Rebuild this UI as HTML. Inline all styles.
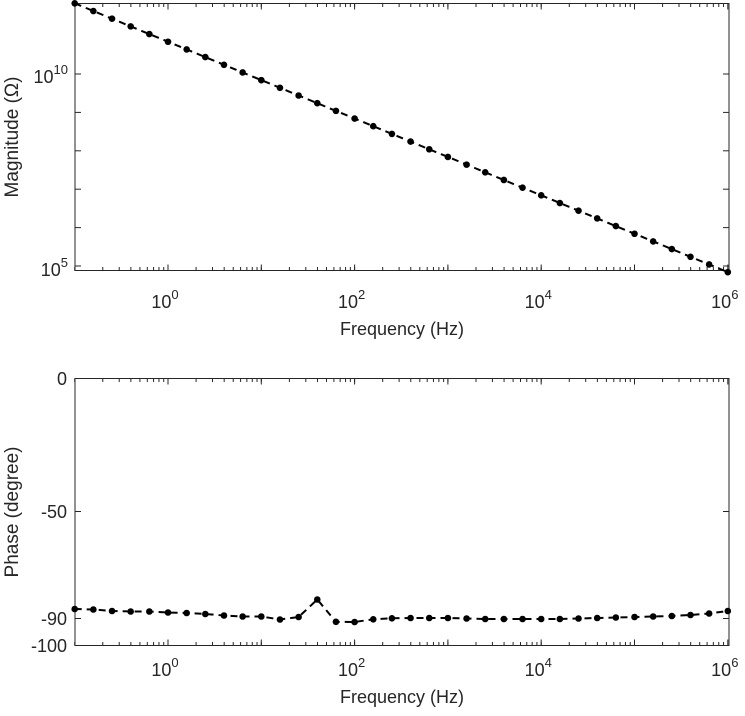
<!DOCTYPE html>
<html><head><meta charset="utf-8"><style>
html,body{margin:0;padding:0;background:#fff;}
svg{display:block;font-family:"Liberation Sans",Arial,sans-serif;}
</style></head><body>
<svg id="s" width="745" height="716" xmlns="http://www.w3.org/2000/svg"></svg>
<script>
var s=document.getElementById('s'),h='';
var X0=74.7,DX=93.3;
function fx(l){return X0+(l+1)*DX;}
function axes(top,bot){
 h+='<rect x="75" y="'+top+'" width="654" height="'+(bot-top)+'" fill="none" stroke="#262626" stroke-width="1"/>';
 for(var d=-1;d<6;d++)for(var m=1;m<=10;m++){
  var x=fx(d+Math.log10(m));var L=(m==10)?6:3.5;
  if(x>728.5)continue;
  h+='<line x1="'+x+'" y1="'+bot+'" x2="'+x+'" y2="'+(bot-L)+'" stroke="#262626"/>';
  h+='<line x1="'+x+'" y1="'+top+'" x2="'+x+'" y2="'+(top+L)+'" stroke="#262626"/>';
 }
}
function lab(x,y,e){h+='<text x="'+x+'" y="'+y+'" font-size="18" fill="#262626" text-anchor="middle">10<tspan font-size="13" dy="-9">'+e+'</tspan></text>';}
function series(pts){
 var p=pts.map(function(a){return a[0].toFixed(1)+','+a[1].toFixed(1)}).join(' ');
 h+='<polyline points="'+p+'" fill="none" stroke="#000" stroke-width="2" stroke-dasharray="7,5"/>';
 pts.forEach(function(a){h+='<circle cx="'+a[0]+'" cy="'+a[1]+'" r="3.3" fill="#000"/>';});
}
axes(3.5,270.5);
[74,112.4,150.8,189.2,227.6,266].forEach(function(y,i){h+='<line x1="75" y1="'+y+'" x2="81" y2="'+y+'" stroke="#262626"/><line x1="729" y1="'+y+'" x2="723" y2="'+y+'" stroke="#262626"/>';});
h+='<text x="68" y="83" font-size="18" fill="#262626" text-anchor="end">10<tspan font-size="13" dy="-9">10</tspan></text>';
h+='<text x="68" y="276" font-size="18" fill="#262626" text-anchor="end">10<tspan font-size="13" dy="-9">5</tspan></text>';
[[0,168],[2,354.6],[4,541.2],[6,727.8]].forEach(function(a){lab(a[1]-3,308,a[0]);});
h+='<text x="402" y="335" font-size="18" fill="#262626" text-anchor="middle">Frequency (Hz)</text>';
h+='<text transform="translate(18,137) rotate(-90)" font-size="19" fill="#262626" text-anchor="middle">Magnitude (Ω)</text>';
var pts=[];
for(var i=0;i<36;i++){var l=-1+0.2*i;var m=10.84-l;pts.push([fx(l),74+(10-m)*38.4]);}
series(pts);
axes(378.5,645.5);
[[0,378.5],[-50,511.5],[-90,618.5],[-100,645.5]].forEach(function(a){
 h+='<line x1="75" y1="'+a[1]+'" x2="81" y2="'+a[1]+'" stroke="#262626"/><line x1="729" y1="'+a[1]+'" x2="723" y2="'+a[1]+'" stroke="#262626"/>';
 h+='<text x="67" y="'+(a[1]+6.5)+'" font-size="18" fill="#262626" text-anchor="end">'+a[0]+'</text>';});
[[0,168],[2,354.6],[4,541.2],[6,727.8]].forEach(function(a){lab(a[1]-3,676,a[0]);});
h+='<text x="402" y="703" font-size="18" fill="#262626" text-anchor="middle">Frequency (Hz)</text>';
h+='<text transform="translate(18,512) rotate(-90)" font-size="19" fill="#262626" text-anchor="middle">Phase (degree)</text>';
var ys=[609,609.5,611,611.5,611.5,612.5,613,614,615.5,616.5,616.5,619.5,617,599.5,621.8,622,619.3,618.3,618,618,618,618.5,619,619,619,619,619,618.5,618,617.5,617,616.5,616,615,613.5,611];
var p2=ys.map(function(y,i){return [fx(-1+0.2*i),y];});
series(p2);
s.innerHTML=h;
</script>
</body></html>
